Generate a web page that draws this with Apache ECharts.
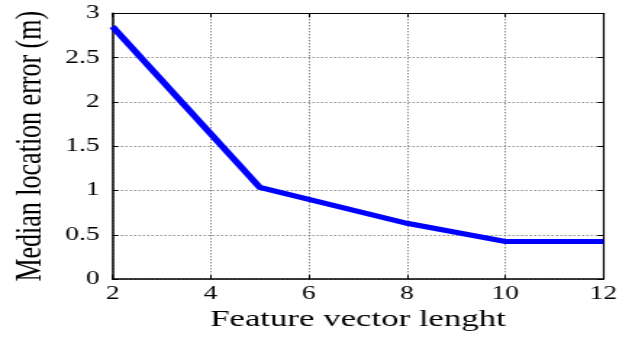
<!DOCTYPE html>
<html>
<head>
<meta charset="utf-8">
<script src="https://cdn.jsdelivr.net/npm/echarts@6/dist/echarts.min.js"></script>
<style>
  html, body { margin: 0; padding: 0; background: #fff; overflow: hidden; }
  /* The figure is drawn narrow and widened horizontally, like a stretched exported plot */
  #chart { width: 436px; height: 337px; transform: scaleX(1.4495); transform-origin: 0 0; }
</style>
</head>
<body>
<div id="chart"></div>
<script>
// Median location error versus feature vector length
const featureLength = [2, 5, 8, 10, 12];
const medianError = [2.85, 1.035, 0.63, 0.425, 0.425];

const xTitle = 'Feature vector lenght';
const yTitle = 'Median location error (m)';

const points = featureLength.map((x, i) => [x, medianError[i]]);

const font = 'Liberation Serif, Times New Roman, serif';
const gridLine = { show: true, lineStyle: { color: '#555', width: 1, type: [1, 2] } };

const chart = echarts.init(document.getElementById('chart'), null, { renderer: 'canvas' });
chart.setOption({
  animation: false,
  backgroundColor: '#fff',
  grid: { left: 77.3, right: 19.8, top: 13.3, bottom: 57.7, show: false },
  xAxis: [
    {
      type: 'value', min: 2, max: 12, interval: 2, position: 'bottom',
      name: xTitle, nameLocation: 'middle', nameGap: 27,
      nameTextStyle: { fontFamily: font, fontSize: 24, color: '#000' },
      axisLine: { show: true, onZero: false, lineStyle: { color: '#000', width: 1.5 } },
      axisTick: { show: true, inside: true, length: 4, lineStyle: { color: '#000' } },
      axisLabel: { fontFamily: font, fontSize: 19, color: '#000', margin: 5 },
      splitLine: gridLine
    },
    {
      type: 'value', min: 2, max: 12, interval: 2, position: 'top',
      axisLine: { show: true, onZero: false, lineStyle: { color: '#000', width: 1.2 } },
      axisTick: { show: true, inside: true, length: 4, lineStyle: { color: '#000' } },
      axisLabel: { show: false },
      splitLine: { show: false }
    }
  ],
  yAxis: [
    {
      type: 'value', min: 0, max: 3, interval: 0.5, position: 'left',
      name: yTitle, nameLocation: 'middle', nameGap: 41, nameRotate: 90,
      nameTextStyle: { fontFamily: font, fontSize: 26, color: '#000' },
      axisLine: { show: true, onZero: false, lineStyle: { color: '#000', width: 1.5 } },
      axisTick: { show: true, inside: true, length: 4, lineStyle: { color: '#000' } },
      axisLabel: { fontFamily: font, fontSize: 19, color: '#000', margin: 9 },
      splitLine: gridLine
    },
    {
      type: 'value', min: 0, max: 3, interval: 0.5, position: 'right',
      axisLine: { show: true, onZero: false, lineStyle: { color: '#000', width: 1.2 } },
      axisTick: { show: true, inside: true, length: 4, lineStyle: { color: '#000' } },
      axisLabel: { show: false },
      splitLine: { show: false }
    }
  ],
  series: [
    {
      type: 'line',
      xAxisIndex: 0, yAxisIndex: 0,
      data: points,
      showSymbol: false,
      symbol: 'none',
      clip: false,
      lineStyle: { color: '#0000ff', width: 5, cap: 'butt', join: 'miter' }
    }
  ]
});
</script>
</body>
</html>
